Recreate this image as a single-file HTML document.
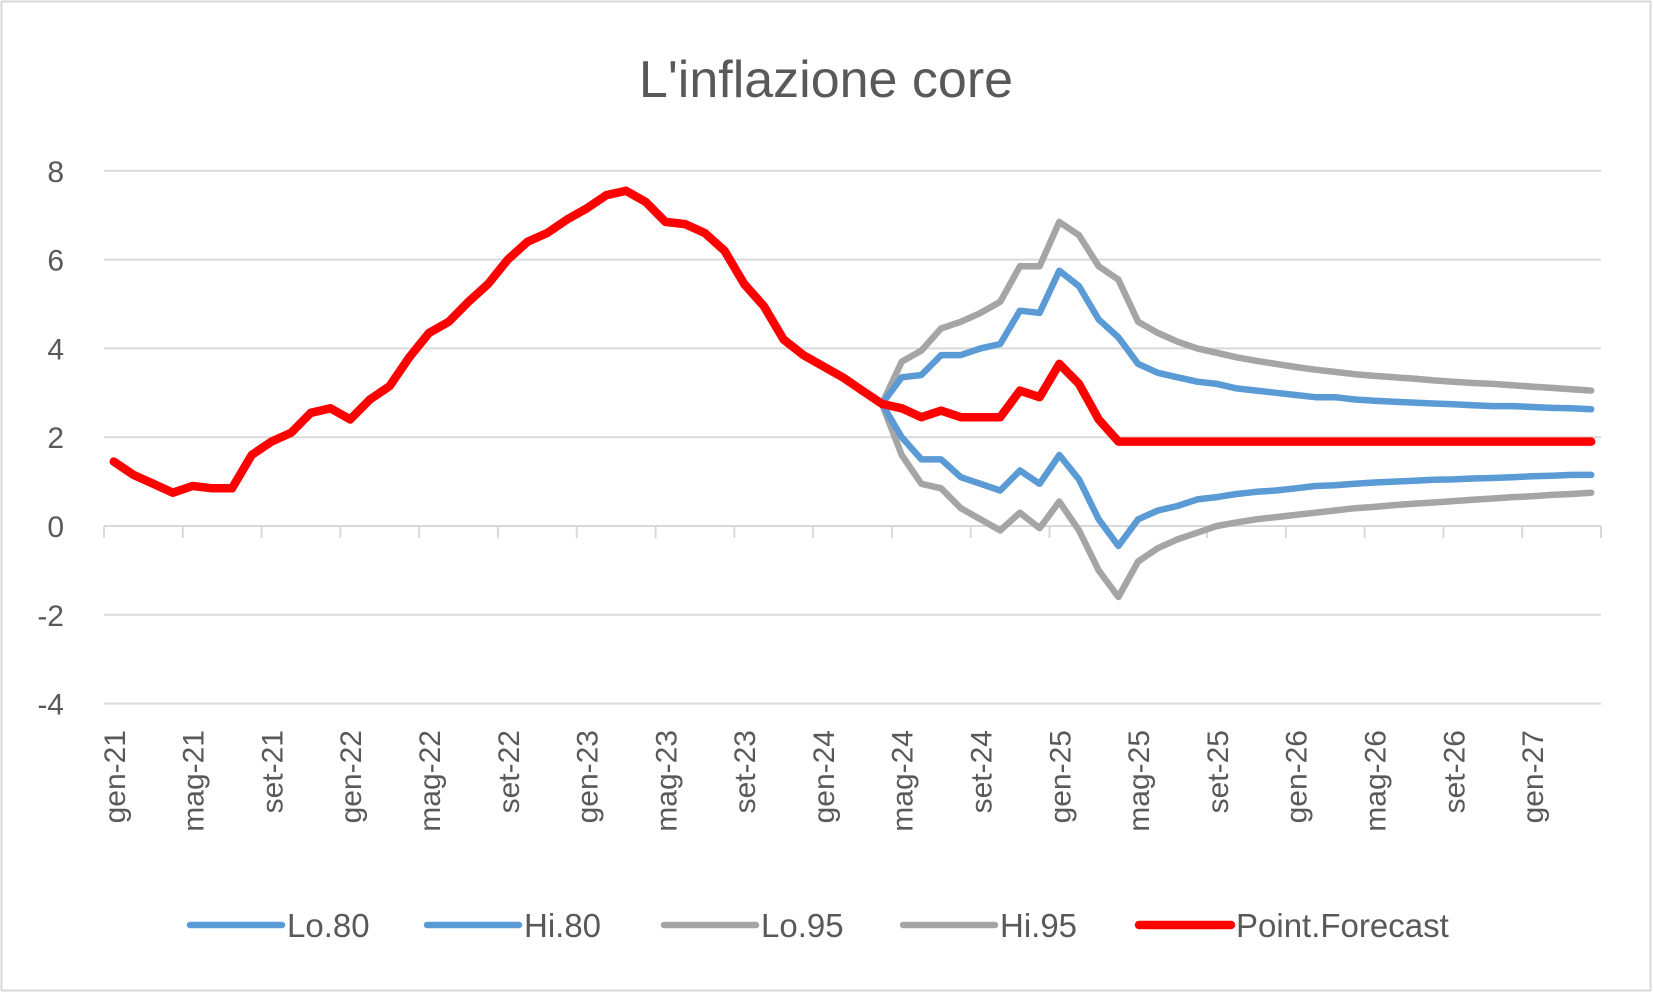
<!DOCTYPE html>
<html><head><meta charset="utf-8"><style>
html,body{margin:0;padding:0;background:#fff}
svg{display:block;font-family:"Liberation Sans",sans-serif}
</style></head><body>
<svg id="chart" width="1653" height="993">
<rect x="1.5" y="1.5" width="1649" height="989" fill="#fff" stroke="#d9d9d9" stroke-width="2"/>
<text x="826" y="97" text-anchor="middle" font-size="52" fill="#595959">L'inflazione core</text>
<g id="grid"></g><g id="series"></g><g id="legend"></g>
</svg>
<script>
const months=['gen','feb','mar','apr','mag','giu','lug','ago','set','ott','nov','dic'];
const yTicks=[8,6,4,2,0,-2,-4];
const history=[1.45,1.15,0.95,0.75,0.9,0.85,0.85,1.6,1.9,2.1,2.55,2.65,2.4,2.85,3.15,3.8,4.35,4.6,5.05,5.45,6.0,6.4,6.6,6.9,7.15,7.45,7.55,7.3,6.85,6.8,6.6,6.2,5.45,4.95,4.2,3.85,3.6,3.35,3.05,2.75];
const forecast=[2.65,2.45,2.6,2.45,2.45,2.45,3.05,2.9,3.65,3.2,2.4,1.9,1.9,1.9,1.9,1.9,1.9,1.9,1.9,1.9,1.9,1.9,1.9,1.9,1.9,1.9,1.9,1.9,1.9,1.9,1.9,1.9,1.9,1.9,1.9,1.9];
const hi80=[2.75,3.35,3.4,3.85,3.85,4.0,4.1,4.85,4.8,5.75,5.4,4.65,4.25,3.65,3.45,3.35,3.25,3.2,3.1,3.05,3.0,2.95,2.9,2.9,2.85,2.82,2.8,2.78,2.76,2.74,2.72,2.7,2.7,2.68,2.66,2.65,2.63];
const lo80=[2.75,2.0,1.5,1.5,1.1,0.95,0.8,1.25,0.95,1.6,1.05,0.15,-0.45,0.15,0.35,0.45,0.6,0.65,0.72,0.77,0.8,0.85,0.9,0.92,0.95,0.98,1.0,1.02,1.04,1.05,1.07,1.08,1.1,1.12,1.13,1.15,1.15];
const hi95=[2.75,3.7,3.95,4.45,4.6,4.8,5.05,5.85,5.85,6.85,6.55,5.85,5.55,4.6,4.35,4.15,4.0,3.9,3.8,3.72,3.65,3.58,3.52,3.47,3.42,3.38,3.35,3.32,3.28,3.25,3.22,3.2,3.17,3.14,3.11,3.08,3.05];
const lo95=[2.75,1.6,0.95,0.85,0.4,0.15,-0.1,0.3,-0.05,0.55,-0.1,-1.0,-1.6,-0.8,-0.5,-0.3,-0.15,0.0,0.08,0.15,0.2,0.25,0.3,0.35,0.4,0.43,0.47,0.5,0.53,0.56,0.59,0.62,0.65,0.67,0.7,0.72,0.75];
const N=76, L=104, R=1601, cw=(R-L)/N, start=39;
const NS='http://www.w3.org/2000/svg';
const X=i=>L+(i+0.5)*cw;
const Y=v=>526-v*44.4;
function mk(t,a,p){const e=document.createElementNS(NS,t);for(const k in a)e.setAttribute(k,a[k]);p.appendChild(e);return e;}
const grid=document.getElementById('grid');
yTicks.forEach(v=>{
 if(v!==0){const g=mk('line',{x1:L,x2:R,y1:Y(v),y2:Y(v),stroke:'#d9d9d9','stroke-width':2},grid);
 
 }
 const t=mk('text',{x:64,y:Y(v)+11,'text-anchor':'end','font-size':30,fill:'#595959'},grid);
 t.textContent=v;
 
 
});
const ax=mk('line',{x1:L,x2:R,y1:Y(0),y2:Y(0),stroke:'#d9d9d9','stroke-width':2},grid);


for(let i=0;i<=N;i+=4){
 const x=i===N?R:L+i*cw;
 const tk=mk('line',{x1:x,x2:x,y1:Y(0),y2:Y(0)+12,stroke:'#d9d9d9','stroke-width':2},grid);
 
 
}
mk('line',{x1:R,x2:R,y1:Y(0),y2:Y(0)+12,stroke:'#d9d9d9','stroke-width':2},grid);
for(let i=0;i<N;i+=4){
 const lab=months[i%12]+'-'+(21+Math.floor(i/12));
 const x=X(i)+11,y=730;
 const t=mk('text',{x:x,y:y,'text-anchor':'end','font-size':30,fill:'#595959',transform:`rotate(-90 ${x} ${y})`},grid);
 t.textContent=lab;
 
 
}
const sg=document.getElementById('series');
function line(vals,off,col,w,name){
 const d=vals.map((v,k)=>(k?'L':'M')+X(off+k).toFixed(1)+' '+Y(v).toFixed(1)).join(' ');
 const p=mk('path',{d:d,fill:'none',stroke:col,'stroke-width':w,'stroke-linejoin':'round','stroke-linecap':'round'},sg);
 
 
}
line(lo95,start,'#a5a5a5',6.5,'series-lo95');
line(hi95,start,'#a5a5a5',6.5,'series-hi95');
line(lo80,start,'#5b9bd5',6.5,'series-lo80');
line(hi80,start,'#5b9bd5',6.5,'series-hi80');
line(history.concat(forecast),0,'#ff0000',8.5,'series-point-forecast');
const lg=document.getElementById('legend');
[['Lo.80','#5b9bd5',190],['Hi.80','#5b9bd5',427],['Lo.95','#a5a5a5',664],['Hi.95','#a5a5a5',903],['Point.Forecast','#ff0000',1139]].forEach(([n,c,x])=>{
 const g=mk('g',{},lg);
 
 
 mk('line',{x1:x,x2:x+92,y1:925,y2:925,stroke:c,'stroke-width':n==='Point.Forecast'?8.5:6.5,'stroke-linecap':'round'},g);
 const t=mk('text',{x:x+97,y:937,'font-size':33,fill:'#595959'},g);
 t.textContent=n;
});
</script>
</body></html>
